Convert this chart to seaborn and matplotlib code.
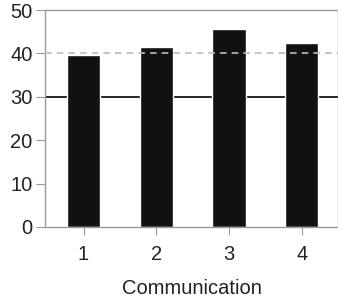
import matplotlib
matplotlib.use('Agg')
import matplotlib.pyplot as plt
import seaborn as sns
import pandas as pd

categories = ['1', '2', '3', '4']
values = [39.6, 41.4, 45.6, 42.4]
solid_ref = 30
dashed_ref = 40

df = pd.DataFrame({'Communication': categories, 'value': values})

sns.set_style('white')
plt.rcParams['font.family'] = ['Liberation Sans', 'DejaVu Sans']

fig = plt.figure(figsize=(3.38, 3.03), dpi=100)
ax = fig.add_axes([45 / 338, 1 - 227 / 303, 293 / 338, 217 / 303])

ax.axhline(solid_ref, color='black', lw=1.2, zorder=0)
sns.barplot(data=df, x='Communication', y='value', color='#111111',
            saturation=1, width=0.46, ax=ax, zorder=2)
ax.axhline(dashed_ref, color='#bbbbbb', lw=1.2, ls=(0, (4, 3)), zorder=3)

ax.set_ylim(0, 50)
ax.set_xlim(-0.53, 3.5)
ax.set_yticks([0, 10, 20, 30, 40, 50])
ax.set_ylabel('')
ax.set_xlabel('Communication', fontsize=14.5, color='#222222', labelpad=11)

for s in ax.spines.values():
    s.set_color('#999999')
    s.set_linewidth(1)
ax.tick_params(axis='both', which='both', left=True, bottom=True,
               color='#999999', labelsize=14.5, labelcolor='#222222')
ax.tick_params(axis='y', length=6.5, pad=2.5)
ax.tick_params(axis='x', length=6, pad=7)

fig.savefig('out.png', dpi=100)
